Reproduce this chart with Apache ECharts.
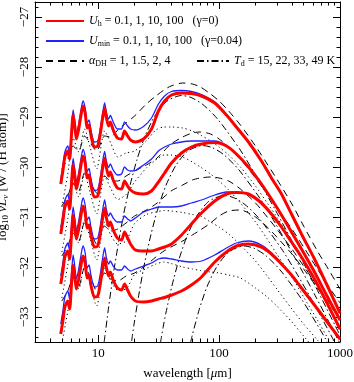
<!DOCTYPE html>
<html>
<head>
<meta charset="utf-8">
<title>Dust emission spectra</title>
<script src="https://cdn.jsdelivr.net/npm/echarts@6.0.0/dist/echarts.min.js"></script>
<style>
  html, body { margin: 0; padding: 0; background: #fff; }
  #chart { width: 354px; height: 382px; }
</style>
</head>
<body>
<div id="chart"></div>
<script>
// wavelength grid (micron) for the U_h / U_min model spectra
const wave = [4.9, 5.1, 5.3, 5.6, 5.8, 6.0, 6.2, 6.4, 6.6, 6.9, 7.3, 7.5, 7.8, 8.1, 8.4, 8.7, 9.3, 9.9, 10.4, 10.85,
  11.3, 11.7, 12.2, 12.6, 13.3, 14.4, 15.6, 16.5, 17.5, 18.5, 20.3, 23.7, 27.6, 31.5, 35.4, 40.4, 48.9, 59, 71.5, 92,
  115, 139, 175, 224, 271, 328, 397, 480, 615, 773, 1000]

// single U (gamma = 0), log10 nu L_nu per H
const redU100 = [-30.34, -30.08, -29.80, -29.68, -29.84, -29.38, -28.96, -29.18, -29.44, -29.24, -28.88, -28.78, -28.92, -29.22, -29.16, -29.36, -29.60, -29.58, -29.34, -29.04,
  -28.82, -29.02, -29.18, -29.10, -29.26, -29.42, -29.44, -29.28, -29.38, -29.46, -29.50, -29.44, -29.24, -28.88, -28.68, -28.56, -28.52, -28.53, -28.58, -28.72,
  -28.96, -29.20, -29.50, -29.88, -30.22, -30.54, -30.94, -31.34, -31.84, -32.34, -32.92]
const redU10 = [-31.34, -31.08, -30.80, -30.68, -30.84, -30.38, -29.96, -30.18, -30.44, -30.24, -29.88, -29.78, -29.92, -30.22, -30.16, -30.36, -30.60, -30.58, -30.34, -30.04,
  -29.82, -30.02, -30.18, -30.10, -30.26, -30.42, -30.44, -30.28, -30.38, -30.46, -30.52, -30.54, -30.48, -30.30, -30.12, -29.92, -29.72, -29.60, -29.54, -29.51,
  -29.58, -29.74, -30.00, -30.34, -30.64, -30.96, -31.30, -31.64, -32.10, -32.56, -33.06]
const redU1 = [-32.34, -32.08, -31.80, -31.68, -31.84, -31.38, -30.96, -31.18, -31.44, -31.24, -30.88, -30.78, -30.92, -31.22, -31.16, -31.36, -31.60, -31.58, -31.34, -31.04,
  -30.82, -31.02, -31.18, -31.10, -31.26, -31.42, -31.46, -31.30, -31.42, -31.54, -31.66, -31.68, -31.68, -31.64, -31.60, -31.54, -31.36, -31.14, -30.92, -30.68,
  -30.54, -30.51, -30.54, -30.72, -30.94, -31.20, -31.50, -31.80, -32.24, -32.70, -33.24]
const redU01 = [-33.34, -33.08, -32.80, -32.68, -32.84, -32.38, -31.96, -32.18, -32.44, -32.24, -31.88, -31.78, -31.92, -32.22, -32.16, -32.36, -32.60, -32.58, -32.34, -32.04,
  -31.82, -32.02, -32.18, -32.10, -32.26, -32.42, -32.46, -32.34, -32.46, -32.58, -32.68, -32.70, -32.68, -32.64, -32.61, -32.56, -32.48, -32.36, -32.20, -31.90,
  -31.70, -31.58, -31.54, -31.60, -31.74, -31.94, -32.16, -32.42, -32.76, -33.08, -33.44]

// U_min with power-law tail (gamma = 0.04)
const blueU100 = [-30.24, -29.98, -29.70, -29.58, -29.74, -29.28, -28.86, -29.08, -29.34, -29.14, -28.78, -28.68, -28.82, -29.12, -29.06, -29.26, -29.50, -29.48, -29.24, -28.94,
  -28.72, -28.92, -29.04, -28.97, -29.10, -29.24, -29.24, -29.10, -29.18, -29.24, -29.26, -29.19, -29.02, -28.74, -28.58, -28.49, -28.47, -28.49, -28.55, -28.70,
  -28.95, -29.21, -29.51, -29.89, -30.23, -30.55, -30.95, -31.35, -31.85, -32.35, -32.93]
const blueU10 = [-31.21, -30.95, -30.67, -30.55, -30.71, -30.25, -29.83, -30.05, -30.31, -30.11, -29.75, -29.65, -29.79, -30.09, -30.03, -30.23, -30.47, -30.45, -30.21, -29.91,
  -29.69, -29.89, -30.01, -29.94, -30.06, -30.16, -30.14, -30.00, -30.06, -30.08, -30.07, -29.96, -29.84, -29.68, -29.60, -29.54, -29.50, -29.48, -29.48, -29.48,
  -29.57, -29.75, -30.01, -30.35, -30.65, -30.97, -31.31, -31.65, -32.11, -32.57, -33.07]
const blueU1 = [-32.18, -31.92, -31.64, -31.52, -31.68, -31.22, -30.80, -31.02, -31.28, -31.08, -30.72, -30.62, -30.76, -31.06, -31.00, -31.20, -31.44, -31.42, -31.18, -30.88,
  -30.66, -30.86, -30.98, -30.92, -31.02, -31.10, -31.10, -30.98, -31.04, -31.08, -31.02, -30.90, -30.84, -30.80, -30.80, -30.80, -30.78, -30.72, -30.66, -30.56,
  -30.50, -30.50, -30.55, -30.73, -30.95, -31.21, -31.51, -31.81, -32.25, -32.71, -33.25]
const blueU01 = [-33.14, -32.88, -32.60, -32.48, -32.64, -32.18, -31.76, -31.98, -32.24, -32.04, -31.68, -31.58, -31.72, -32.02, -31.96, -32.16, -32.40, -32.38, -32.14, -31.84,
  -31.62, -31.82, -31.94, -31.88, -31.98, -32.06, -32.06, -31.98, -32.04, -32.08, -32.04, -31.98, -31.92, -31.84, -31.82, -31.84, -31.88, -31.90, -31.88, -31.76,
  -31.62, -31.52, -31.48, -31.56, -31.72, -31.95, -32.17, -32.43, -32.77, -33.09, -33.45]

// coarser grid for the Dale & Helou and power-law component curves
const sparseWave = [5, 5.6, 6.2, 6.9, 7.7, 8.6, 9.7, 11.3, 12.7, 14.5, 17, 20, 25, 30, 35, 40, 50, 60, 70, 85,
  100, 120, 150, 200, 250, 300, 400, 500, 650, 800, 1000]

const dhAlpha1 = [-30.04, -29.84, -29.58, -29.68, -29.38, -29.52, -29.68, -29.38, -29.40, -29.26, -29.12, -28.98, -28.74, -28.58, -28.46, -28.38, -28.32, -28.34, -28.40, -28.54,
  -28.68, -28.88, -29.16, -29.58, -29.94, -30.24, -30.74, -31.18, -31.68, -32.04, -32.44]
const dhAlpha15 = [-30.78, -30.58, -30.32, -30.48, -30.12, -30.28, -30.52, -30.18, -30.28, -30.28, -30.18, -30.08, -29.96, -29.84, -29.68, -29.54, -29.40, -29.32, -29.30, -29.34,
  -29.44, -29.60, -29.84, -30.22, -30.54, -30.82, -31.24, -31.60, -32.04, -32.38, -32.72]
const dhAlpha2 = [-31.78, -31.58, -31.32, -31.48, -31.12, -31.28, -31.54, -31.18, -31.28, -31.24, -31.12, -30.98, -30.86, -30.74, -30.60, -30.48, -30.36, -30.26, -30.22, -30.20,
  -30.22, -30.28, -30.44, -30.72, -31.00, -31.24, -31.64, -31.98, -32.38, -32.68, -33.00]
const dhAlpha4 = [-32.68, -32.48, -32.22, -32.38, -32.02, -32.18, -32.48, -32.12, -32.24, -32.28, -32.18, -32.12, -31.96, -31.80, -31.68, -31.60, -31.48, -31.36, -31.26, -31.12,
  -30.98, -30.88, -30.86, -31.00, -31.20, -31.40, -31.74, -32.04, -32.42, -32.72, -33.04]

// power-law components (dotted)
const plU100 = [-30.80, -30.14, -29.42, -29.70, -29.24, -29.62, -30.04, -29.28, -29.52, -29.80, -29.72, -29.68, -29.48, -29.26, -29.20, -29.20, -29.22, -29.28, -29.36, -29.48,
  -29.60, -29.76, -30.00, -30.38, -30.72, -31.00, -31.48, -31.88, -32.38, -32.78, -33.18]
const plU10 = [-31.70, -31.04, -30.32, -30.60, -30.14, -30.52, -30.94, -30.18, -30.43, -30.65, -30.55, -30.30, -30.02, -29.86, -29.76, -29.76, -29.80, -29.90, -30.00, -30.14,
  -30.28, -30.46, -30.72, -31.10, -31.44, -31.74, -32.20, -32.60, -33.06, -33.44, -33.80]
const plU1 = [-32.62, -31.96, -31.24, -31.52, -31.06, -31.44, -31.86, -31.10, -31.36, -31.54, -31.48, -31.13, -30.95, -30.90, -30.87, -30.88, -30.91, -30.95, -30.98, -31.10,
  -31.20, -31.34, -31.56, -31.88, -32.18, -32.44, -32.84, -33.14, -33.46, -33.70, -33.95]
const plU01 = [-33.54, -32.88, -32.16, -32.44, -31.98, -32.36, -32.78, -32.02, -32.28, -32.46, -32.44, -32.15, -32.03, -31.94, -31.90, -31.93, -32.00, -32.04, -32.07, -32.10,
  -32.12, -32.16, -32.22, -32.42, -32.60, -32.78, -33.10, -33.38, -33.70, -33.90, -34.10]

// modified blackbodies, T_d = 49, 33, 22, 15 K
const td49Wave = [11.2, 12.2, 13.3, 14.7, 16.3, 18.35, 21, 24.5, 29.4, 36.7, 48.9, 58.7, 73.4, 97.9, 146.8, 195.7, 293.6, 419, 587, 979]
const td49Lum = [-33.50, -32.80, -32.16, -31.52, -30.92, -30.36, -29.84, -29.37, -28.98, -28.69, -28.57, -28.61, -28.75, -29.05, -29.63, -30.12, -30.87, -31.57, -32.25, -33.32]
const td33Wave = [18.9, 19.8, 21.8, 24.2, 27.25, 31.1, 36.3, 43.6, 54.5, 72.7, 87.2, 109, 145, 218, 291, 436, 623, 872, 1000]
const td33Lum = [-33.48, -33.14, -32.52, -31.92, -31.36, -30.84, -30.37, -29.98, -29.69, -29.57, -29.61, -29.75, -30.05, -30.63, -31.12, -31.87, -32.57, -33.25, -33.53]
const td22Wave = [32.7, 34.4, 36.3, 40.9, 46.7, 54.5, 65.4, 81.8, 109, 131, 163.5, 218, 327, 436, 654, 934]
const td22Lum = [-33.52, -33.21, -32.92, -32.36, -31.84, -31.37, -30.98, -30.69, -30.57, -30.61, -30.75, -31.05, -31.63, -32.12, -32.87, -33.57]
const td15Wave = [58.1, 59.9, 68.5, 79.9, 95.9, 120, 160, 192, 240, 320, 480, 639, 760, 800]
const td15Lum = [-33.51, -33.37, -32.85, -32.38, -31.99, -31.70, -31.58, -31.62, -31.76, -32.06, -32.64, -33.13, -33.44, -33.56]

// ticks
const xMajorTicks = [10, 100, 1000]
const xMinorTicks = [4, 5, 6, 7, 8, 9, 20, 30, 40, 50, 60, 70, 80, 90, 200, 300, 400, 500, 600, 700, 800, 900]
const yMajorTicks = [-33, -32, -31, -30, -29, -28, -27]

const FONT = 'Liberation Serif'
const LOG3 = Math.log10(3)
const yMinorTicks = []
for (let k = -334; k <= -268; k += 2) {
  if (k % 10 !== 0) yMinorTicks.push(k / 10)
}

const rich = {
  i: { fontFamily: FONT, fontStyle: 'italic', fontSize: 13, color: '#000' },
  s: { fontFamily: FONT, fontSize: 9, color: '#000', padding: [6, 0, 0, 0] },
  si: { fontFamily: FONT, fontStyle: 'italic', fontSize: 9, color: '#000', padding: [6, 0, 0, 0] }
}
const legendRich = {
  i: { fontFamily: FONT, fontStyle: 'italic', fontSize: 12, color: '#000' },
  s: { fontFamily: FONT, fontSize: 8, color: '#000', padding: [5, 0, 0, 0] }
}
const legendText = {
  red: '{i|U}{s|h} = 0.1, 1, 10, 100   (γ=0)',
  blue: '{i|U}{s|min} = 0.1, 1, 10, 100   (γ=0.04)',
  dh: '{i|α}{s|DH} = 1, 1.5, 2, 4',
  td: '{i|T}{s|d} = 15, 22, 33, 49 K'
}

function line(name, xs, ys, color, width, type, z) {
  return {
    type: 'line',
    name: name,
    xAxisIndex: 0,
    yAxisIndex: 0,
    data: xs.map((x, i) => [x, ys[i]]),
    symbol: 'none',
    showSymbol: false,
    smooth: 0.25,
    lineStyle: { color: color, width: width, type: type },
    itemStyle: { color: color },
    emphasis: { disabled: true },
    silent: true,
    z: z
  }
}

const DOT = [1.2, 3]
const DASH = [7, 5]
const DASHDOT = [7, 3, 1.5, 3]

const series = [
  line('pl', sparseWave, plU100, '#000', 1, DOT, 2),
  line('pl', sparseWave, plU10, '#000', 1, DOT, 2),
  line('pl', sparseWave, plU1, '#000', 1, DOT, 2),
  line('pl', sparseWave, plU01, '#000', 1, DOT, 2),
  line('dh', sparseWave, dhAlpha1, '#000', 1, DASH, 3),
  line('dh', sparseWave, dhAlpha15, '#000', 1, DASH, 3),
  line('dh', sparseWave, dhAlpha2, '#000', 1, DASH, 3),
  line('dh', sparseWave, dhAlpha4, '#000', 1, DASH, 3),
  line('td', td49Wave, td49Lum, '#000', 1, DASHDOT, 3),
  line('td', td33Wave, td33Lum, '#000', 1, DASHDOT, 3),
  line('td', td22Wave, td22Lum, '#000', 1, DASHDOT, 3),
  line('td', td15Wave, td15Lum, '#000', 1, DASHDOT, 3),
  line('blue', wave, blueU100, '#2222ff', 1.3, 'solid', 4),
  line('blue', wave, blueU10, '#2222ff', 1.3, 'solid', 4),
  line('blue', wave, blueU1, '#2222ff', 1.3, 'solid', 4),
  line('blue', wave, blueU01, '#2222ff', 1.3, 'solid', 4),
  line('red', wave, redU100, '#ff0000', 3, 'solid', 5),
  line('red', wave, redU10, '#ff0000', 3, 'solid', 5),
  line('red', wave, redU1, '#ff0000', 3, 'solid', 5),
  line('red', wave, redU01, '#ff0000', 3, 'solid', 5)
]

function legendItem(name, left, top, width) {
  return {
    data: [name],
    left: left,
    top: top,
    padding: 0,
    itemWidth: width,
    itemHeight: 12,
    selectedMode: false,
    // hide the marker the line icon carries in its middle
    itemStyle: { color: 'rgba(0,0,0,0)', borderWidth: 0, opacity: 0 },
    formatter: n => legendText[n],
    textStyle: { fontFamily: FONT, fontSize: 12, color: '#000', rich: legendRich }
  }
}

const blackLine = { show: true, onZero: false, lineStyle: { color: '#000', width: 1 } }
const noLine = { show: false, onZero: false }

const chart = echarts.init(document.getElementById('chart'))
chart.setOption({
  animation: false,
  backgroundColor: '#fff',
  textStyle: { fontFamily: FONT },
  grid: { left: 35, right: 14, top: 2, bottom: 40, containLabel: false, outerBoundsMode: 'none' },
  legend: [
    legendItem('red', 45, 15, 38),
    legendItem('blue', 45, 35, 38),
    legendItem('dh', 45, 55, 38),
    legendItem('td', 196, 55, 32)
  ],
  xAxis: [
    {
      type: 'log', logBase: 10, min: 3, max: 1000, position: 'bottom',
      axisLine: blackLine,
      axisTick: { inside: true, length: 7, lineStyle: { color: '#000' } },
      axisLabel: {
        formatter: v => (xMajorTicks.indexOf(Math.round(v)) >= 0 && Math.abs(v - Math.round(v)) < 1e-6) ? String(Math.round(v)) : '',
        fontFamily: FONT, fontSize: 13, color: '#000', margin: 5
      },
      splitLine: { show: false },
      name: 'wavelength [{i|μ}m]',
      nameLocation: 'middle',
      nameGap: 25,
      nameTextStyle: { fontFamily: FONT, fontSize: 13, color: '#000', rich: rich }
    },
    {
      type: 'log', logBase: 10, min: 3, max: 1000, position: 'top',
      axisLine: blackLine,
      axisTick: { inside: true, length: 7, lineStyle: { color: '#000' } },
      axisLabel: { show: false },
      splitLine: { show: false }
    },
    {
      type: 'value', min: LOG3, max: 3, position: 'bottom',
      axisLine: noLine,
      axisTick: { inside: true, length: 3.5, customValues: xMinorTicks.map(Math.log10), lineStyle: { color: '#000' } },
      axisLabel: { show: false },
      splitLine: { show: false }
    },
    {
      type: 'value', min: LOG3, max: 3, position: 'top',
      axisLine: noLine,
      axisTick: { inside: true, length: 3.5, customValues: xMinorTicks.map(Math.log10), lineStyle: { color: '#000' } },
      axisLabel: { show: false },
      splitLine: { show: false }
    }
  ],
  yAxis: [
    {
      type: 'value', min: -33.5, max: -26.7, position: 'left',
      axisLine: blackLine,
      axisTick: { inside: true, length: 7, customValues: yMajorTicks, lineStyle: { color: '#000' } },
      axisLabel: {
        customValues: yMajorTicks, rotate: 90, margin: 4,
        formatter: v => (v < 0 ? '\u2212' + Math.abs(v) : String(v)),
        fontFamily: FONT, fontSize: 13, color: '#000'
      },
      splitLine: { show: false },
      name: 'log{s|10} {i|νL}{si|ν} [W / (H atom)]',
      nameLocation: 'middle',
      nameRotate: 90,
      nameGap: 14,
      nameTextStyle: { fontFamily: FONT, fontSize: 13, color: '#000', rich: rich, padding: [0, 10, 0, 0] }
    },
    {
      type: 'value', min: -33.5, max: -26.7, position: 'right',
      axisLine: blackLine,
      axisTick: { inside: true, length: 7, customValues: yMajorTicks, lineStyle: { color: '#000' } },
      axisLabel: { show: false },
      splitLine: { show: false }
    },
    {
      type: 'value', min: -33.5, max: -26.7, position: 'left',
      axisLine: noLine,
      axisTick: { inside: true, length: 3.5, customValues: yMinorTicks, lineStyle: { color: '#000' } },
      axisLabel: { show: false },
      splitLine: { show: false }
    },
    {
      type: 'value', min: -33.5, max: -26.7, position: 'right',
      axisLine: noLine,
      axisTick: { inside: true, length: 3.5, customValues: yMinorTicks, lineStyle: { color: '#000' } },
      axisLabel: { show: false },
      splitLine: { show: false }
    }
  ],
  series: series
})
</script>
</body>
</html>
